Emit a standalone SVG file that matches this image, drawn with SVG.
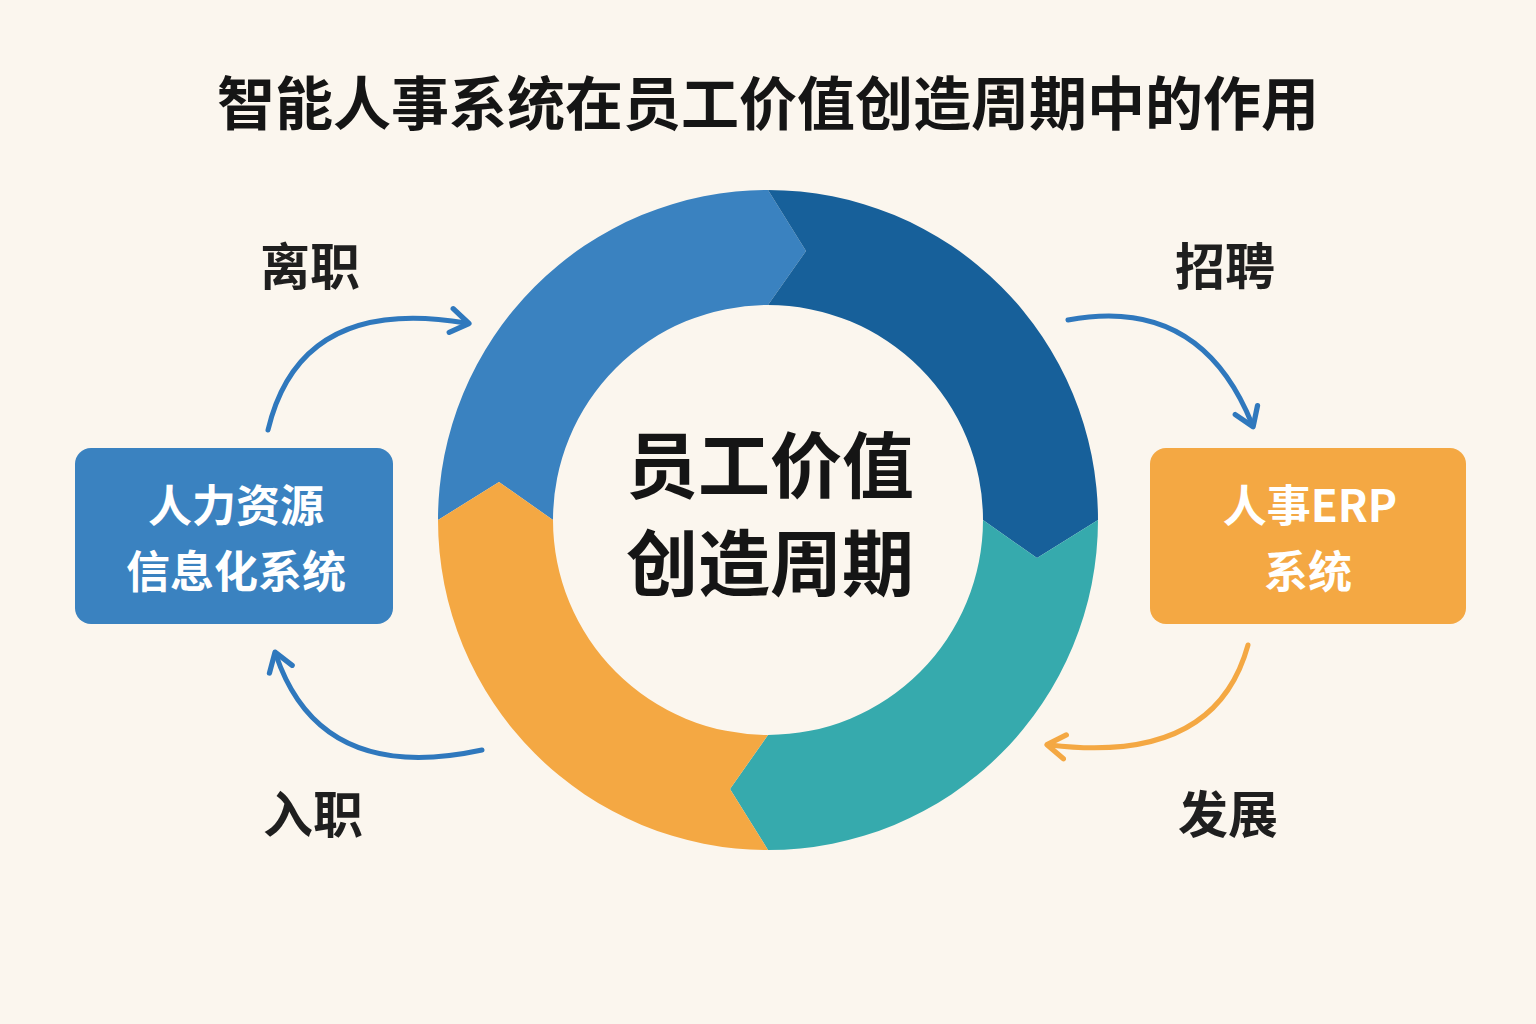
<svg xmlns="http://www.w3.org/2000/svg" width="1536" height="1024" viewBox="0 0 1536 1024">
<style>
text{font-family:"Noto Sans CJK SC","Noto Sans",sans-serif;font-weight:700;text-anchor:middle}
.lbl{font-size:50px;fill:#1f1f1f}
.bx{font-size:44px;fill:#fff}
.con{fill:none;stroke-width:5;stroke-linecap:round}
</style>
<defs>
<marker id="ab" viewBox="0 0 20 20" refX="12" refY="10" markerWidth="6" markerHeight="6" orient="auto" markerUnits="strokeWidth"><path d="M2,2 L14,10 L2,18" fill="none" stroke="#2f78bd" stroke-width="3.5" stroke-linecap="round" stroke-linejoin="round"/></marker>
<marker id="ao" viewBox="0 0 20 20" refX="12" refY="10" markerWidth="6" markerHeight="6" orient="auto" markerUnits="strokeWidth"><path d="M2,2 L14,10 L2,18" fill="none" stroke="#f4a843" stroke-width="3.5" stroke-linecap="round" stroke-linejoin="round"/></marker>
</defs>
<rect width="1536" height="1024" fill="#fbf6ee"/>
<text x="768" y="125" style="font-size:58px" fill="#151515">智能人事系统在员工价值创造周期中的作用</text>
<g id="ring">
<path d="M438,520 A330,330 0 0 1 768,190 L806,251 L768,305 A215,215 0 0 0 553,520 L499,482 Z" fill="#3a82c0"/>
<path d="M768,190 A330,330 0 0 1 1098,520 L1037,558 L983,520 A215,215 0 0 0 768,305 L806,251 Z" fill="#17609a"/>
<path d="M1098,520 A330,330 0 0 1 768,850 L730,789 L768,735 A215,215 0 0 0 983,520 L1037,558 Z" fill="#36aaad"/>
<path d="M768,850 A330,330 0 0 1 438,520 L499,482 L553,520 A215,215 0 0 0 768,735 L730,789 Z" fill="#f4a843"/>
</g>
<g id="center">
<text x="770" y="492" style="font-size:72px" fill="#151515">员工价值</text>
<text x="770" y="590" style="font-size:72px" fill="#151515">创造周期</text>
</g>
<g id="left-box">
<rect x="75" y="448" width="318" height="176" rx="16" fill="#3a82c0"/>
<text class="bx" x="236" y="522">人力资源</text>
<text class="bx" x="236" y="588">信息化系统</text>
</g>
<g id="right-box">
<rect x="1150" y="448" width="316" height="176" rx="16" fill="#f4a843"/>
<text class="bx" x="1310" y="522">人事ERP</text>
<text class="bx" x="1308" y="588">系统</text>
</g>
<g id="labels">
<text class="lbl" x="310" y="285">离职</text>
<text class="lbl" x="1225" y="285">招聘</text>
<text class="lbl" x="313" y="833">入职</text>
<text class="lbl" x="1228" y="833">发展</text>
</g>
<g id="connectors">
<path class="con" stroke="#2f78bd" d="M268,430 Q300,295 466,323" marker-end="url(#ab)"/>
<path class="con" stroke="#2f78bd" d="M482,750 Q320,785 276,655" marker-end="url(#ab)"/>
<path class="con" stroke="#2f78bd" d="M1068,320 Q1200,295 1252,424" marker-end="url(#ab)"/>
<path class="con" stroke="#f4a843" d="M1248,645 Q1215,765 1050,745" marker-end="url(#ao)"/>
</g>
</svg>
